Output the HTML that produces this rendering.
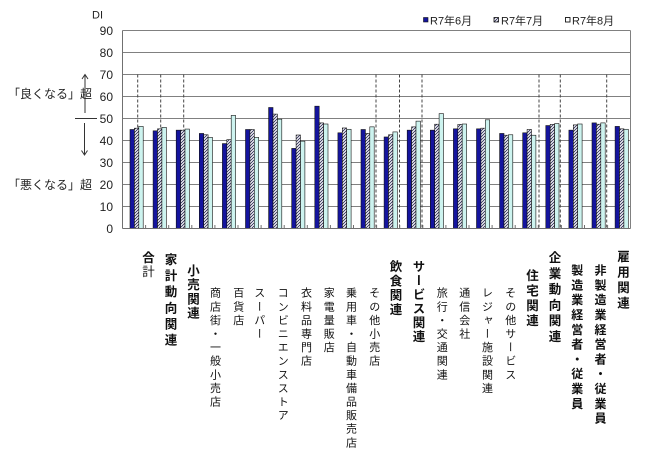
<!DOCTYPE html>
<html><head><meta charset="utf-8">
<style>
html,body{margin:0;padding:0;background:#fff;}
#wrap{position:relative;width:671px;height:460px;overflow:hidden;background:#fff;font-family:"Liberation Sans","Noto Sans CJK JP",sans-serif;}
svg{position:absolute;left:0;top:0;}
.v{position:absolute;writing-mode:vertical-rl;line-height:1;white-space:nowrap;color:#111;font-family:"Liberation Sans","Noto Sans CJK JP",sans-serif;}
.n{font-size:11px;letter-spacing:2.6px;width:11px;}
.b{font-size:12.5px;font-weight:bold;width:12.5px;}
.ann{position:absolute;font-size:12px;color:#222;white-space:nowrap;font-family:"Liberation Sans","Noto Sans CJK JP",sans-serif;}
</style></head><body><div id="wrap">
<svg width="671" height="460" viewBox="0 0 671 460" xmlns="http://www.w3.org/2000/svg">
<defs>
<pattern id="h" patternUnits="userSpaceOnUse" width="3" height="3">
<rect width="3" height="3" fill="#fff"/>
<path d="M-1,1 L1,-1 M0,3 L3,0 M2,4 L4,2" stroke="#2a2a55" stroke-width="0.9"/>
</pattern>
</defs>
<!-- gridlines -->
<g stroke="#808080" stroke-width="1">
<line x1="122.5" y1="30.5" x2="630.5" y2="30.5"/>
<line x1="122.5" y1="52.5" x2="630.5" y2="52.5"/>
<line x1="122.5" y1="74.5" x2="630.5" y2="74.5"/>
<line x1="122.5" y1="96.5" x2="630.5" y2="96.5"/>
<line x1="122.5" y1="118.5" x2="630.5" y2="118.5"/>
<line x1="122.5" y1="140.5" x2="630.5" y2="140.5"/>
<line x1="122.5" y1="162.5" x2="630.5" y2="162.5"/>
<line x1="122.5" y1="184.5" x2="630.5" y2="184.5"/>
<line x1="122.5" y1="206.5" x2="630.5" y2="206.5"/>
<line x1="630.5" y1="30.5" x2="630.5" y2="228.5"/>
</g>
<!-- dashed lines -->
<g stroke="#444" stroke-width="1" stroke-dasharray="3,2">
<line x1="137.7" y1="74.5" x2="137.7" y2="228.5"/>
<line x1="160.7" y1="74.5" x2="160.7" y2="228.5"/>
<line x1="183.7" y1="74.5" x2="183.7" y2="228.5"/>
<line x1="376" y1="74.5" x2="376" y2="228.5"/>
<line x1="399.5" y1="74.5" x2="399.5" y2="228.5"/>
<line x1="422" y1="74.5" x2="422" y2="228.5"/>
<line x1="539" y1="74.5" x2="539" y2="228.5"/>
<line x1="560.3" y1="74.5" x2="560.3" y2="228.5"/>
<line x1="606.7" y1="74.5" x2="606.7" y2="228.5"/>
</g>
<!-- bars -->
<g stroke="#111" stroke-width="0.6">
<g fill="#14149e">
<rect x="130.0" y="129.5" width="4.4" height="99.0"/>
<rect x="153.1" y="130.82" width="4.4" height="97.68"/>
<rect x="176.2" y="130.16" width="4.4" height="98.34"/>
<rect x="199.3" y="133.46" width="4.4" height="95.04"/>
<rect x="222.4" y="143.58" width="4.4" height="84.92"/>
<rect x="245.5" y="129.5" width="4.4" height="99.0"/>
<rect x="268.6" y="107.5" width="4.4" height="121.0"/>
<rect x="291.7" y="148.42" width="4.4" height="80.08"/>
<rect x="314.8" y="106.18" width="4.4" height="122.32"/>
<rect x="337.9" y="132.8" width="4.4" height="95.7"/>
<rect x="361.0" y="129.5" width="4.4" height="99.0"/>
<rect x="384.1" y="136.98" width="4.4" height="91.52"/>
<rect x="407.2" y="130.16" width="4.4" height="98.34"/>
<rect x="430.3" y="130.16" width="4.4" height="98.34"/>
<rect x="453.4" y="128.84" width="4.4" height="99.66"/>
<rect x="476.5" y="128.84" width="4.4" height="99.66"/>
<rect x="499.6" y="133.46" width="4.4" height="95.04"/>
<rect x="522.7" y="132.8" width="4.4" height="95.7"/>
<rect x="545.8" y="125.54" width="4.4" height="102.96"/>
<rect x="568.9" y="130.16" width="4.4" height="98.34"/>
<rect x="592.0" y="122.9" width="4.4" height="105.6"/>
<rect x="615.1" y="126.42" width="4.4" height="102.08"/>
</g>
<g fill="url(#h)">
<rect x="134.4" y="128.18" width="4.4" height="100.32"/>
<rect x="157.5" y="128.84" width="4.4" height="99.66"/>
<rect x="180.6" y="130.16" width="4.4" height="98.34"/>
<rect x="203.7" y="134.78" width="4.4" height="93.72"/>
<rect x="226.8" y="139.62" width="4.4" height="88.88"/>
<rect x="249.9" y="129.5" width="4.4" height="99.0"/>
<rect x="273.0" y="114.1" width="4.4" height="114.4"/>
<rect x="296.1" y="135.0" width="4.4" height="93.5"/>
<rect x="319.2" y="122.9" width="4.4" height="105.6"/>
<rect x="342.3" y="127.96" width="4.4" height="100.54"/>
<rect x="365.4" y="133.46" width="4.4" height="95.04"/>
<rect x="388.5" y="134.78" width="4.4" height="93.72"/>
<rect x="411.6" y="126.86" width="4.4" height="101.64"/>
<rect x="434.7" y="124.22" width="4.4" height="104.28"/>
<rect x="457.8" y="124.44" width="4.4" height="104.06"/>
<rect x="480.9" y="128.18" width="4.4" height="100.32"/>
<rect x="504.0" y="135.22" width="4.4" height="93.28"/>
<rect x="527.1" y="129.5" width="4.4" height="99.0"/>
<rect x="550.2" y="124.44" width="4.4" height="104.06"/>
<rect x="573.3" y="124.88" width="4.4" height="103.62"/>
<rect x="596.4" y="124.22" width="4.4" height="104.28"/>
<rect x="619.5" y="128.84" width="4.4" height="99.66"/>
</g>
<g fill="#cdf3ef">
<rect x="138.8" y="126.42" width="4.4" height="102.08"/>
<rect x="161.9" y="127.3" width="4.4" height="101.2"/>
<rect x="185.0" y="129.06" width="4.4" height="99.44"/>
<rect x="208.1" y="137.42" width="4.4" height="91.08"/>
<rect x="231.2" y="115.42" width="4.4" height="113.08"/>
<rect x="254.3" y="137.42" width="4.4" height="91.08"/>
<rect x="277.4" y="119.16" width="4.4" height="109.34"/>
<rect x="300.5" y="141.16" width="4.4" height="87.34"/>
<rect x="323.6" y="124.0" width="4.4" height="104.5"/>
<rect x="346.7" y="129.28" width="4.4" height="99.22"/>
<rect x="369.8" y="126.86" width="4.4" height="101.64"/>
<rect x="392.9" y="131.92" width="4.4" height="96.58"/>
<rect x="416.0" y="121.14" width="4.4" height="107.36"/>
<rect x="439.1" y="113.66" width="4.4" height="114.84"/>
<rect x="462.2" y="124.0" width="4.4" height="104.5"/>
<rect x="485.3" y="119.82" width="4.4" height="108.68"/>
<rect x="508.4" y="134.78" width="4.4" height="93.72"/>
<rect x="531.5" y="135.22" width="4.4" height="93.28"/>
<rect x="554.6" y="123.56" width="4.4" height="104.94"/>
<rect x="577.7" y="124.0" width="4.4" height="104.5"/>
<rect x="600.8" y="122.9" width="4.4" height="105.6"/>
<rect x="623.9" y="129.28" width="4.4" height="99.22"/>
</g>
</g>
<!-- axes -->
<g stroke="#707070" stroke-width="1">
<line x1="122.5" y1="30.5" x2="122.5" y2="228.5"/>
<line x1="122.5" y1="228.5" x2="630.5" y2="228.5"/>
</g>
<g stroke="#707070" stroke-width="1">
<line x1="145.6" y1="225" x2="145.6" y2="228.5"/>
<line x1="168.7" y1="225" x2="168.7" y2="228.5"/>
<line x1="191.8" y1="225" x2="191.8" y2="228.5"/>
<line x1="214.9" y1="225" x2="214.9" y2="228.5"/>
<line x1="238.0" y1="225" x2="238.0" y2="228.5"/>
<line x1="261.1" y1="225" x2="261.1" y2="228.5"/>
<line x1="284.2" y1="225" x2="284.2" y2="228.5"/>
<line x1="307.3" y1="225" x2="307.3" y2="228.5"/>
<line x1="330.4" y1="225" x2="330.4" y2="228.5"/>
<line x1="353.5" y1="225" x2="353.5" y2="228.5"/>
<line x1="376.6" y1="225" x2="376.6" y2="228.5"/>
<line x1="399.7" y1="225" x2="399.7" y2="228.5"/>
<line x1="422.8" y1="225" x2="422.8" y2="228.5"/>
<line x1="445.9" y1="225" x2="445.9" y2="228.5"/>
<line x1="469.0" y1="225" x2="469.0" y2="228.5"/>
<line x1="492.1" y1="225" x2="492.1" y2="228.5"/>
<line x1="515.2" y1="225" x2="515.2" y2="228.5"/>
<line x1="538.3" y1="225" x2="538.3" y2="228.5"/>
<line x1="561.4" y1="225" x2="561.4" y2="228.5"/>
<line x1="584.5" y1="225" x2="584.5" y2="228.5"/>
<line x1="607.6" y1="225" x2="607.6" y2="228.5"/>
</g>
<!-- y labels -->
<g font-family="Liberation Sans, sans-serif" font-size="12" fill="#222" text-anchor="end">
<text x="113" y="34.8">90</text>
<text x="113" y="56.8">80</text>
<text x="113" y="78.8">70</text>
<text x="113" y="100.8">60</text>
<text x="113" y="122.8">50</text>
<text x="113" y="144.8">40</text>
<text x="113" y="166.8">30</text>
<text x="113" y="188.8">20</text>
<text x="113" y="210.8">10</text>
<text x="113" y="232.8">0</text>
</g>
<text x="92" y="18.5" font-family="Liberation Sans, sans-serif" font-size="11" fill="#222">DI</text>
<!-- annotation lines/arrows -->
<g stroke="#333" stroke-width="1" fill="none">
<line x1="75" y1="118.5" x2="97" y2="118.5"/>
<line x1="85" y1="113" x2="85" y2="75"/>
<path d="M82,79 L85,74.5 L88,79"/>
<line x1="84.5" y1="123" x2="84.5" y2="155"/>
<path d="M81.5,150.5 L84.5,155 L87.5,150.5"/>
</g>
<!-- legend -->
<rect x="423.5" y="17.5" width="4.5" height="4.5" fill="#14149e" stroke="#111" stroke-width="0.6"/>
<rect x="494" y="17.5" width="4.5" height="4.5" fill="url(#h)" stroke="#111" stroke-width="0.8"/>
<rect x="565.5" y="17.5" width="4.5" height="4.5" fill="#fff" stroke="#111" stroke-width="0.9"/>
<g font-family="Liberation Sans, Noto Sans CJK JP, sans-serif" font-size="11" fill="#222">
<text x="430" y="24.5">R7年6月</text>
<text x="501" y="24.5">R7年7月</text>
<text x="572" y="24.5">R7年8月</text>
</g>
</svg>
<div class="ann" style="left:8px;top:85px;">「良くなる」超</div>
<div class="ann" style="left:8px;top:176px;">「悪くなる」超</div>

<div class="v b" style="left:140.5px;top:251px;letter-spacing:1.5px;">合<span style="font-weight:normal">計</span></div>
<div class="v b" style="left:163px;top:253px;letter-spacing:3.6px;">家計動向関連</div>
<div class="v b" style="left:185.5px;top:264px;letter-spacing:1.7px;">小売関連</div>
<div class="v n" style="left:208.5px;top:287px;">商店街・一般小売店</div>
<div class="v n" style="left:231.8px;top:287px;">百貨店</div>
<div class="v n" style="left:252.8px;top:287px;">スーパー</div>
<div class="v n" style="left:276.2px;top:287px;">コンビニエンスストア</div>
<div class="v n" style="left:299.5px;top:287px;">衣料品専門店</div>
<div class="v n" style="left:322.2px;top:287px;">家電量販店</div>
<div class="v n" style="left:344.5px;top:287px;">乗用車・自動車備品販売店</div>
<div class="v n" style="left:367.8px;top:287px;">その他小売店</div>
<div class="v b" style="left:388px;top:260px;letter-spacing:1.8px;">飲食関連</div>
<div class="v b" style="left:411px;top:260px;letter-spacing:1.5px;">サービス関連</div>
<div class="v n" style="left:435.2px;top:287px;">旅行・交通関連</div>
<div class="v n" style="left:457.8px;top:287px;">通信会社</div>
<div class="v n" style="left:480.5px;top:287px;">レジャー施設関連</div>
<div class="v n" style="left:503.8px;top:287px;">その他サービス</div>
<div class="v b" style="left:524.5px;top:269px;letter-spacing:2.5px;">住宅関連</div>
<div class="v b" style="left:547px;top:251px;letter-spacing:3.3px;">企業動向関連</div>
<div class="v b" style="left:570.7px;top:264px;font-size:12px;width:12px;letter-spacing:2.8px;">製造業経営者・従業員</div>
<div class="v b" style="left:594px;top:264px;font-size:12px;width:12px;letter-spacing:2.8px;">非製造業経営者・従業員</div>
<div class="v b" style="left:615.5px;top:250px;letter-spacing:3px;">雇用関連</div>
</div></body></html>
